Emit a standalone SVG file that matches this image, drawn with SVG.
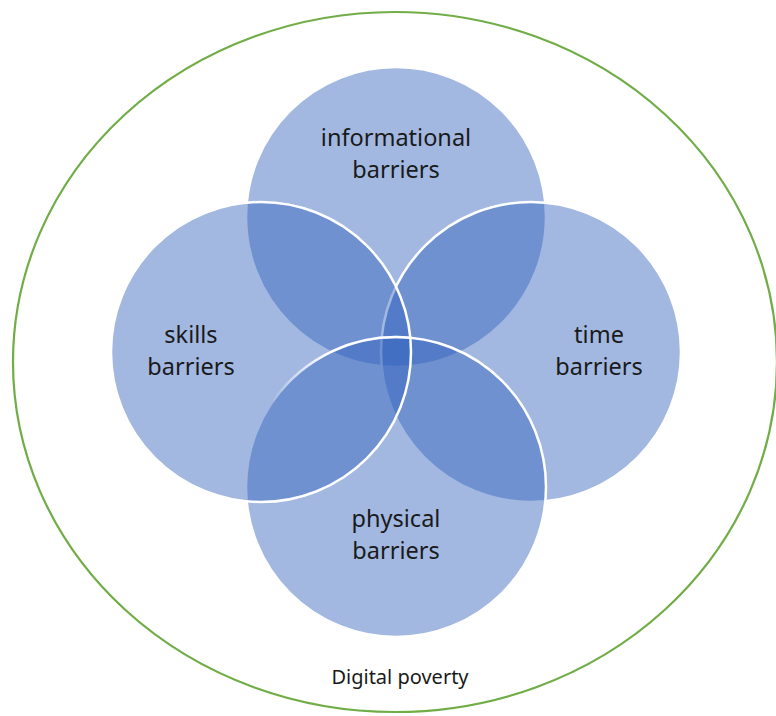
<svg xmlns="http://www.w3.org/2000/svg" width="776" height="716" viewBox="0 0 776 716">
  <style>
    .disc { fill: rgb(49,98,188); fill-opacity: 0.45; stroke: #ffffff; stroke-width: 2.5; }
    .edge { fill: none; stroke: url(#rimFade); stroke-width: 2.5; }
    .label { font-family: "Noto Sans", "Open Sans", sans-serif; font-size: 23.5px; fill: #1a1a1a; text-anchor: middle; }
    .caption { font-family: "Noto Sans", "Open Sans", sans-serif; font-size: 20px; fill: #1a1a1a; text-anchor: middle; }
  </style>
  <defs>
    <linearGradient id="rimFade" gradientUnits="userSpaceOnUse" x1="270" y1="405" x2="330" y2="355">
      <stop offset="0" stop-color="#ffffff" stop-opacity="0"/>
      <stop offset="1" stop-color="#ffffff" stop-opacity="1"/>
    </linearGradient>
  </defs>
  <rect width="776" height="716" fill="#ffffff"/>

  <!-- outer boundary -->
  <g id="digital-poverty">
    <ellipse cx="395" cy="362" rx="382" ry="350" fill="none" stroke="#70AD47" stroke-width="2.2"/>
    <text class="caption" x="400" y="684">Digital poverty</text>
  </g>

  <g id="informational-barriers">
    <circle class="disc" cx="396" cy="217" r="150"/>
  </g>
  <g id="time-barriers">
    <circle class="disc" cx="531" cy="352" r="150"/>
  </g>
  <g id="physical-barriers">
    <circle class="disc" cx="396" cy="487" r="150"/>
  </g>
  <g id="skills-barriers">
    <circle class="disc" cx="261" cy="352" r="150"/>
  </g>

  <!-- upper rim of the lower disc, kept on top -->
  <g id="connectors">
    <path class="edge" d="M 273.1 401.0 A 150 150 0 0 1 410.3 337.7"/>
  </g>

  <g id="labels">
    <text class="label" x="396" y="146">informational</text>
    <text class="label" x="396" y="178">barriers</text>
    <text class="label" x="191" y="343">skills</text>
    <text class="label" x="191" y="375">barriers</text>
    <text class="label" x="599" y="343">time</text>
    <text class="label" x="599" y="375">barriers</text>
    <text class="label" x="396" y="527">physical</text>
    <text class="label" x="396" y="559">barriers</text>
  </g>
</svg>
